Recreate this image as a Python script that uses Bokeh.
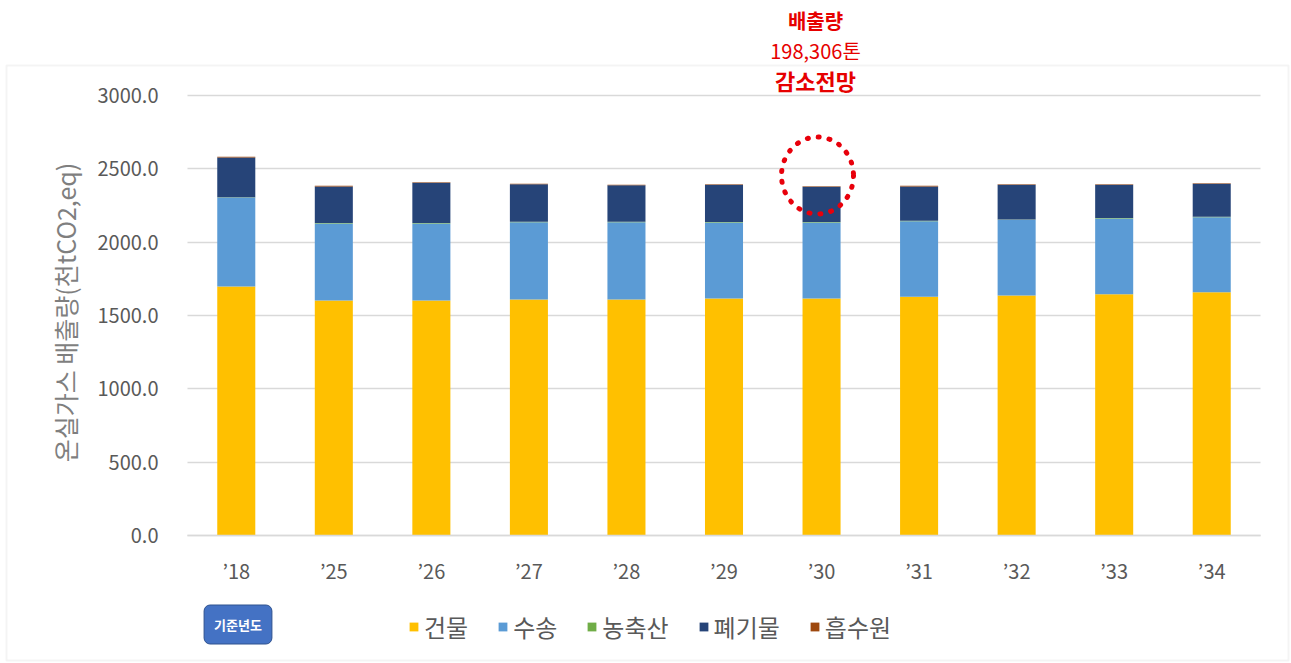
import math
from bokeh.plotting import figure
from bokeh.models import (Range1d, Legend, LegendItem, Label, BoxAnnotation,
                          NumeralTickFormatter, FixedTicker)
from bokeh.embed import file_html
from bokeh.resources import INLINE

# ---- data ----
years = ["’18", "’25", "’26", "’27", "’28", "’29", "’30", "’31", "’32", "’33", "’34"]
building = [1698, 1602, 1602, 1609, 1609, 1616, 1616, 1627, 1636, 1645, 1659]
transport = [606, 525, 525, 527, 527, 518, 518, 516, 516, 516, 511]
agriculture = [3, 3, 3, 3, 3, 3, 3, 3, 3, 3, 3]
waste = [270, 250, 275, 256, 249, 254, 240, 234, 236, 227, 225]
sink = [5, 4, 4, 4, 4, 4, 4, 4, 4, 4, 4]
series_names = ["건물", "수송", "농축산", "폐기물", "흡수원"]
series_keys = ["building", "transport", "agriculture", "waste", "sink"]
colors = ["#FFC000", "#5B9BD5", "#70AD47", "#264478", "#9E480E"]
y_ticks = [0, 500, 1000, 1500, 2000, 2500, 3000]
base_year_label = "기준년도"
note_lines = ["배출량", "198,306톤", "감소전망"]
y_title = "온실가스 배출량(천tCO2,eq)"

FONT = "Noto Sans CJK KR"
W, H = 1290, 662
# plot area in pixels
PL, PR, PT, PB = 187, 1260, 95, 535
n = len(years)
cat_w = (PR - PL) / n
y_per_px = 3000 / (PB - PT)

x_pos = [i + 0.5 for i in range(n)]
data = dict(x=x_pos, building=building, transport=transport,
            agriculture=agriculture, waste=waste, sink=sink)

p = figure(x_range=Range1d(-PL / cat_w, (W - PL) / cat_w),
           y_range=Range1d(-(H - PB) * y_per_px, 3000 + PT * y_per_px),
           width=W, height=H, output_backend="svg", toolbar_location=None,
           min_border=0)
p.outline_line_color = None
p.background_fill_color = "white"
p.border_fill_color = "white"

rs = p.vbar_stack(series_keys, x="x", width=0.39, source=data,
                  color=colors, line_width=0)

# grid
p.xgrid.grid_line_color = None
p.ygrid.ticker = FixedTicker(ticks=y_ticks)
p.ygrid.grid_line_color = "#D9D9D9"
p.ygrid.grid_line_width = 1.3
try:
    p.ygrid.cross_bounds = (0, n)
except Exception:
    p.ygrid.grid_line_color = None
    p.segment(x0=0, x1=n, y0=y_ticks, y1=y_ticks, line_color="#D9D9D9",
              line_width=1.3, level="underlay")

# y axis drawn at the left edge of the plot area
yax = p.yaxis[0]
yax.fixed_location = 0
yax.ticker = FixedTicker(ticks=y_ticks)
yax.formatter = NumeralTickFormatter(format="0.0")
yax.axis_line_color = None
yax.major_tick_line_color = None
yax.minor_tick_line_color = None
yax.major_label_text_font = FONT
yax.major_label_text_font_size = "20px"
yax.major_label_text_color = "#595959"
yax.major_label_standoff = 23

# x axis at y = 0
xax = p.xaxis[0]
xax.fixed_location = 0
xax.bounds = (0, n)
xax.ticker = FixedTicker(ticks=x_pos)
xax.major_label_overrides = {x: lab for x, lab in zip(x_pos, years)}
xax.axis_line_color = "#D9D9D9"
xax.axis_line_width = 1.3
xax.major_tick_line_color = None
xax.minor_tick_line_color = None
xax.major_label_text_font = FONT
xax.major_label_text_font_size = "20px"
xax.major_label_text_color = "#595959"
xax.major_label_standoff = 14

# y axis title
p.add_layout(Label(x=64, y=H - 312, x_units="screen", y_units="screen",
                   text=y_title, angle=math.pi / 2, text_font=FONT,
                   text_font_size="25px", text_color="#7F7F7F",
                   text_align="center", text_baseline="middle"))

# outer chart border
p.add_layout(BoxAnnotation(left=6, right=1288, top=H - 65, bottom=H - 660,
                           left_units="screen", right_units="screen",
                           top_units="screen", bottom_units="screen",
                           fill_color=None, line_color="#D9D9D9", line_width=2,
                           level="underlay"))

# legend
items = [LegendItem(label=nm, renderers=[r]) for nm, r in zip(series_names, rs)]
legend = Legend(items=items, orientation="horizontal", location=(408, 18),
                glyph_width=11, glyph_height=11, label_standoff=5, spacing=29,
                label_text_font=FONT, label_text_font_size="24px",
                label_text_color="#595959", background_fill_alpha=0,
                border_line_color=None, padding=0, margin=0)
p.add_layout(legend, "center")

# base year badge
p.add_layout(Label(x=237.5, y=H - 624, x_units="screen", y_units="screen",
                   text=base_year_label, text_font=FONT, text_font_size="13px",
                   text_font_style="bold", text_color="white",
                   text_align="center", text_baseline="middle",
                   background_fill_color="#4472C4", border_line_color="#2F528F",
                   border_line_width=1, padding=10, border_radius=6))

# red annotation
p.ellipse(x=[(817 - PL) / cat_w], y=[(PB - 175) * y_per_px], width=72, height=77,
          width_units="screen", height_units="screen", fill_color=None,
          line_color="#E8000B", line_width=5, line_dash="1 10", line_cap="round")
for txt, yy, sz, st in zip(note_lines, [20, 50, 79], ["20px", "20px", "22px"],
                           ["bold", "normal", "bold"]):
    p.add_layout(Label(x=815, y=H - yy, x_units="screen", y_units="screen", text=txt,
                       text_font=FONT, text_font_size=sz,
                       text_font_style=st, text_color="#E60000",
                       text_align="center", text_baseline="middle"))

open("out.html", "w").write(file_html(p, INLINE))
